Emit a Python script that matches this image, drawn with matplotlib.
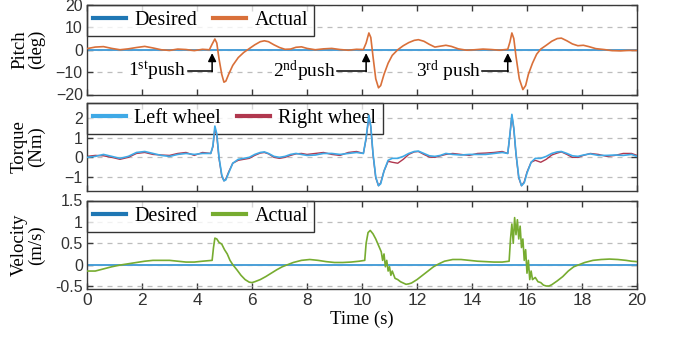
import matplotlib
matplotlib.use("Agg")
import matplotlib.pyplot as plt

# ---------------- data ----------------
x_ticks = [0, 2, 4, 6, 8, 10, 12, 14, 16, 18, 20]

pitch_t = [0, 0.3, 0.6, 0.9, 1.2, 1.5, 1.8, 2.1, 2.4, 2.7, 3.0, 3.3, 3.6, 3.9, 4.2, 4.45,
           4.55, 4.65, 4.72, 4.8, 4.9, 4.98, 5.05, 5.15, 5.3, 5.5, 5.7, 5.9, 6.1, 6.3, 6.45,
           6.6, 6.8, 7.0, 7.2, 7.4, 7.6, 7.8, 8.0, 8.3, 8.6, 8.9, 9.2, 9.5, 9.8, 10.05,
           10.15, 10.25, 10.32, 10.4, 10.5, 10.6, 10.68, 10.8, 10.95, 11.1, 11.3, 11.5, 11.7,
           11.9, 12.05, 12.25, 12.45, 12.65, 12.85, 13.05, 13.25, 13.5, 13.8, 14.1, 14.4,
           14.7, 15.0, 15.3,
           15.38, 15.45, 15.52, 15.6, 15.72, 15.85, 15.95, 16.05, 16.2, 16.35, 16.5, 16.7,
           16.9, 17.1, 17.25, 17.45, 17.65, 17.85, 18.05, 18.25, 18.5, 18.8, 19.1, 19.4,
           19.7, 20.0]
pitch_actual = [0.5, 1.2, 1.4, 0.6, 0.0, 0.4, 1.0, 1.5, 0.8, 0.0, -0.3, 0.3, 0.1, -0.4, 0.2, 0.0,
                2.5, 4.8, 3.0, -4.0, -11.0, -14.5, -14.0, -11.0, -7.0, -3.5, -1.2, 0.5, 2.2, 3.6, 4.0,
                3.6, 2.2, 1.0, 0.2, 0.3, 1.1, 1.3, 0.6, 0.0, 0.4, 0.6, 0.1, -0.2, 0.2, 0.1,
                3.0, 7.5, 5.5, -3.0, -13.0, -17.0, -16.0, -11.0, -6.0, -2.5, 0.0, 1.8, 3.2,
                4.2, 4.5, 3.8, 2.4, 1.2, 1.6, 2.0, 1.5, 0.4, -0.2, 0.0, 0.3,
                0.1, -0.2, 0.2,
                3.5, 7.5, 5.0, -3.0, -13.0, -17.8, -16.0, -11.0, -6.0, -2.0, 0.3, 2.0,
                3.8, 5.0, 5.2, 4.0, 2.6, 1.8, 2.0, 1.4, 0.5, 0.1, -0.4, -0.5,
                -0.3, -0.3]
pitch_desired = [0.0, 0.0]
desired_t = [0, 20]

torque_t = [0, 0.3, 0.6, 0.9, 1.2, 1.5, 1.8, 2.1, 2.4, 2.7, 3.0, 3.3, 3.6, 3.9, 4.2, 4.5,
            4.58, 4.65, 4.72, 4.8, 4.9, 4.98, 5.05, 5.15, 5.3, 5.5, 5.7, 5.9, 6.1, 6.3, 6.45,
            6.6, 6.8, 7.0, 7.2, 7.4, 7.6, 7.8, 8.0, 8.3, 8.6, 8.9, 9.2, 9.5, 9.8, 10.05,
            10.15, 10.25, 10.32, 10.4, 10.5, 10.6, 10.68, 10.8, 10.95, 11.1, 11.3, 11.5, 11.7,
            11.9, 12.05, 12.25, 12.45, 12.65, 12.85, 13.05, 13.3, 13.6, 13.9, 14.2, 14.5,
            14.8, 15.1, 15.3,
            15.38, 15.45, 15.52, 15.6, 15.7, 15.8, 15.9, 16.0, 16.15, 16.3, 16.5, 16.7,
            16.9, 17.1, 17.25, 17.45, 17.65, 17.85, 18.05, 18.3, 18.6, 18.9, 19.2, 19.5,
            19.8, 20.0]
torque_left = [0.0, 0.05, 0.15, 0.05, -0.05, 0.05, 0.25, 0.3, 0.2, 0.1, 0.05, 0.15, 0.2, 0.15, 0.2, 0.2,
               0.6, 1.6, 1.2, 0.0, -0.9, -1.2, -1.15, -0.8, -0.3, -0.1, -0.05, 0.0, 0.15, 0.25, 0.28,
               0.2, 0.05, 0.0, 0.05, 0.15, 0.2, 0.15, 0.1, 0.12, 0.2, 0.2, 0.15, 0.2, 0.25, 0.2,
               1.0, 2.15, 1.6, 0.2, -1.0, -1.45, -1.35, -0.7, -0.15, -0.05, -0.05, 0.05, 0.2,
               0.3, 0.32, 0.2, 0.08, 0.05, 0.1, 0.2, 0.15, 0.12, 0.15, 0.15, 0.15,
               0.2, 0.25, 0.2,
               1.2, 2.2, 1.5, 0.2, -1.0, -1.45, -1.3, -0.8, -0.25, -0.05, -0.05, 0.05,
               0.2, 0.28, 0.3, 0.2, 0.08, 0.05, 0.12, 0.18, 0.1, 0.1, 0.12, 0.1,
               0.15, 0.05]
torque_right = [0.05, 0.1, 0.08, 0.0, -0.1, 0.0, 0.2, 0.25, 0.15, 0.12, 0.1, 0.2, 0.25, 0.1, 0.25, 0.2,
                0.55, 1.5, 1.1, -0.05, -0.95, -1.2, -1.1, -0.75, -0.3, -0.15, -0.1, -0.05, 0.1, 0.22, 0.25,
                0.18, 0.0, -0.05, 0.0, 0.1, 0.18, 0.2, 0.15, 0.2, 0.25, 0.15, 0.1, 0.25, 0.3, 0.2,
                0.95, 2.1, 1.55, 0.15, -1.05, -1.45, -1.3, -0.7, -0.2, -0.25, -0.3, -0.1, 0.15,
                0.28, 0.3, 0.15, 0.02, 0.0, 0.08, 0.15, 0.2, 0.15, 0.1, 0.2, 0.22,
                0.25, 0.3, 0.2,
                1.15, 2.15, 1.45, 0.15, -1.05, -1.45, -1.25, -0.75, -0.25, -0.15, -0.25, -0.1,
                0.12, 0.22, 0.28, 0.15, 0.0, 0.0, 0.1, 0.2, 0.15, 0.05, 0.1, 0.2,
                0.2, 0.1]

vel_t = [0, 0.3, 0.6, 0.9, 1.2, 1.5, 1.8, 2.1, 2.4, 2.7, 3.0, 3.3, 3.6, 3.9, 4.2, 4.55,
         4.6, 4.65, 4.72, 4.8, 4.9, 5.0, 5.1, 5.2, 5.3, 5.45, 5.6, 5.75, 5.9, 6.0, 6.1,
         6.3, 6.5, 6.7, 6.9, 7.1, 7.3, 7.5, 7.8, 8.1, 8.4, 8.7, 9.0, 9.3, 9.6, 9.9, 10.1,
         10.15, 10.22, 10.3, 10.4, 10.5, 10.6, 10.7, 10.75, 10.8, 10.85, 10.9, 10.95, 11.0,
         11.05, 11.1, 11.2, 11.3, 11.4, 11.5, 11.6, 11.7, 11.8, 12.0, 12.2, 12.4, 12.6,
         12.8, 13.0, 13.3, 13.6, 13.9, 14.2, 14.5, 14.8, 15.1, 15.35,
         15.4, 15.45, 15.5, 15.55, 15.6, 15.65, 15.7, 15.75, 15.8, 15.85, 15.9, 15.95,
         16.0, 16.05, 16.1, 16.15, 16.2, 16.3, 16.4, 16.5, 16.6, 16.7, 16.8, 16.9, 17.1,
         17.3, 17.5, 17.7, 17.9, 18.1, 18.4, 18.7, 19.0, 19.3, 19.6, 19.8, 20.0]
vel_actual = [-0.15, -0.15, -0.1, -0.05, -0.01, 0.02, 0.05, 0.08, 0.1, 0.1, 0.1, 0.08, 0.06, 0.06, 0.08, 0.1,
              0.4, 0.62, 0.6, 0.52, 0.48, 0.35, 0.25, 0.1, 0.0, -0.12, -0.25, -0.35, -0.41, -0.42, -0.4,
              -0.35, -0.28, -0.2, -0.12, -0.05, 0.0, 0.05, 0.1, 0.12, 0.1, 0.07, 0.05, 0.05, 0.06, 0.08, 0.1,
              0.5, 0.75, 0.8, 0.72, 0.6, 0.45, 0.3, 0.1, 0.25, -0.05, 0.1, -0.15, -0.05,
              -0.25, -0.15, -0.32, -0.35, -0.4, -0.43, -0.46, -0.45, -0.43, -0.35, -0.25, -0.15, -0.05,
              0.02, 0.08, 0.12, 0.12, 0.1, 0.08, 0.07, 0.06, 0.06, 0.08,
              0.6, 0.95, 0.5, 1.1, 0.7, 1.05, 0.6, 0.9, 0.4, 0.6, 0.1, 0.35,
              -0.2, 0.1, -0.35, -0.15, -0.35, -0.3, -0.4, -0.42, -0.48, -0.5, -0.5, -0.47, -0.38,
              -0.28, -0.15, -0.05, 0.0, 0.05, 0.1, 0.12, 0.13, 0.12, 0.1, 0.08, 0.07]
vel_desired = [0.0, 0.0]

pitch_yticks = [-20, -10, 0, 10, 20]
torque_yticks = [-1, 0, 1, 2]
vel_yticks = [-0.5, 0, 0.5, 1, 1.5]
vel_yticklabels = ["-0.5", "0", "0.5", "1", "1.5"]

push_labels = ["1$^{\\mathrm{st}}$push", "2$^{\\mathrm{nd}}$push", "3$^{\\mathrm{rd}}$ push"]
push_text_x = [1.5, 6.75, 11.95]
push_arrow_x = [4.55, 10.15, 15.3]

# ---------------- style ----------------
plt.rcParams['mathtext.fontset'] = 'custom'
plt.rcParams['mathtext.rm'] = 'Liberation Serif'
plt.rcParams['mathtext.it'] = 'Liberation Serif:italic'
SERIF = 'Liberation Serif'
SANS = 'Liberation Sans'
FRAME = '#3a3a3a'
C_DES = '#1F77B4'
C_DES_LINE = '#4A9FD8'
C_ACT = '#D9703A'
C_LEFT = '#3FA9E6'
C_RIGHT = '#A2142F'
C_VEL = '#77AC30'

fig = plt.figure(figsize=(6.76, 3.45), dpi=100)
W, H = 676.0, 345.0
x0 = 87 / W
w = 550 / W
boxes = [(5, 94.5), (103, 191), (200.5, 289)]
axes = []
for top, bot in boxes:
    ax = fig.add_axes([x0, 1 - bot / H, w, (bot - top) / H])
    axes.append(ax)


def style(ax, ylim, yticks, ylab, labels=None):
    ax.set_xlim(0, 20)
    ax.set_ylim(*ylim)
    ax.set_xticks(x_ticks)
    ax.set_yticks(yticks)
    if labels is not None:
        ax.set_yticklabels(labels)
    ax.tick_params(direction='in', top=True, right=True, length=4, width=1.0,
                   color=FRAME, labelsize=11.5, pad=3)
    for lab in ax.get_yticklabels() + ax.get_xticklabels():
        lab.set_fontfamily(SANS)
        lab.set_color('#333333')
    for s in ax.spines.values():
        s.set_color(FRAME)
        s.set_linewidth(1.0)
    ax.yaxis.grid(True, linestyle=(0, (4, 4)), color='#bdbdbd', linewidth=0.9)
    ax.set_ylabel(ylab, fontfamily=SERIF, fontsize=13.5, linespacing=0.95)
    ax.yaxis.set_label_coords(-0.077, 0.5)


def legend(ax, handles, labels):
    leg = ax.legend(handles, labels, loc='upper left', ncol=2, frameon=True, fancybox=False,
                    borderaxespad=0, handlelength=1.65, handletextpad=0.4, columnspacing=0.8,
                    borderpad=0.3, prop={'family': SERIF, 'size': 14.5})
    leg.get_frame().set_edgecolor('black')
    leg.get_frame().set_linewidth(1.0)
    for ln in leg.get_lines():
        ln.set_linewidth(3)
    leg.set_zorder(1.8)
    return leg


# Pitch
ax = axes[0]
hd, = ax.plot(desired_t, pitch_desired, color=C_DES_LINE, lw=1.4, zorder=2)
ha, = ax.plot(pitch_t, pitch_actual, color=C_ACT, lw=1.2, zorder=3)
style(ax, (-20, 20), pitch_yticks, "Pitch\n(deg)")
ax.set_xticklabels([])
l = legend(ax, [hd, ha], ["Desired", "Actual"])
l.get_lines()[0].set_color(C_DES)
for lbl, tx, axx in zip(push_labels, push_text_x, push_arrow_x):
    t = ax.text(tx, -9.5, lbl, fontfamily=SERIF, fontsize=14, va='center', ha='left',
                zorder=4, bbox=dict(facecolor='white', edgecolor='none', pad=0.5))
    fig.canvas.draw()
    bb = t.get_window_extent().transformed(ax.transData.inverted())
    ax.plot([bb.x1 + 0.05, axx], [-9.3, -9.3], color='black', lw=1.1, zorder=4)
    ax.annotate("", xy=(axx, -1.5), xytext=(axx, -9.8),
                arrowprops=dict(arrowstyle='-|>', color='black', lw=1.1,
                                mutation_scale=12, shrinkA=0, shrinkB=0), zorder=4)

# Torque
ax = axes[1]
hr, = ax.plot(torque_t, torque_right, color=C_RIGHT, lw=1.0, zorder=2, alpha=0.85)
hl, = ax.plot(torque_t, torque_left, color=C_LEFT, lw=1.2, zorder=3)
style(ax, (-1.72, 2.78), torque_yticks, "Torque\n(Nm)")
ax.set_xticklabels([])
legend(ax, [hl, hr], ["Left wheel", "Right wheel"])

# Velocity
ax = axes[2]
hd2, = ax.plot(desired_t, vel_desired, color=C_DES_LINE, lw=1.4, zorder=2)
hv, = ax.plot(vel_t, vel_actual, color=C_VEL, lw=1.2, zorder=3)
style(ax, (-0.57, 1.5), vel_yticks, "Velocity\n(m/s)", vel_yticklabels)
ax.tick_params(axis='x', labelsize=12.5)
for lab in ax.get_xticklabels():
    lab.set_fontfamily(SANS)
ax.set_xlabel("Time (s)", fontfamily=SERIF, fontsize=13.5, labelpad=2)
l = legend(ax, [hd2, hv], ["Desired", "Actual"])
l.get_lines()[0].set_color(C_DES)

fig.savefig("out.png", dpi=100)
